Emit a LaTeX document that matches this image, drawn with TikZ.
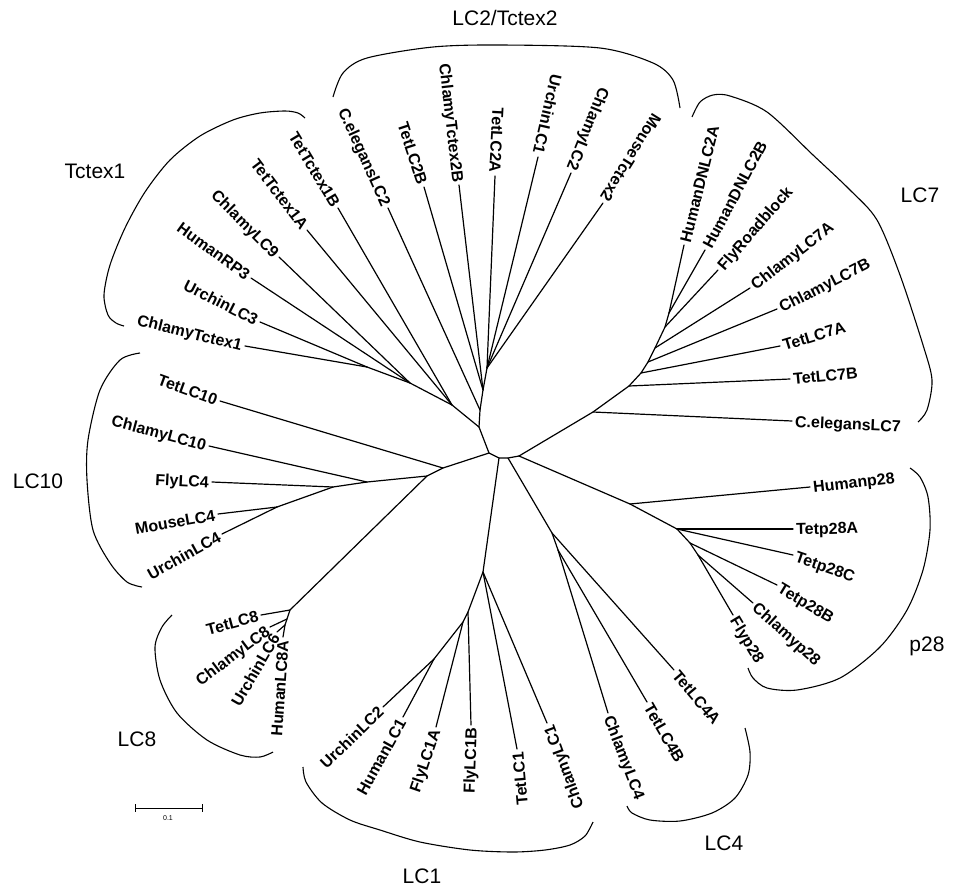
\documentclass[tikz,border=0pt]{standalone}
\usepackage{fontspec}
\setmainfont{Liberation Sans}
\usetikzlibrary{calc}
\tikzset{
  branch/.style={line width=1.2pt, line cap=round},
  bracket/.style={line width=1.1pt},
  lbl/.style={font=\bfseries\fontsize{16}{16}\selectfont, inner sep=3pt, text height=12pt, text depth=0pt},
  grp/.style={font=\fontsize{21}{21}\selectfont, inner sep=0pt}
}
% leaf label read towards the centre / away from the centre
\newcommand{\leafin}[5]{ \node[lbl, anchor=east, rotate=#4] (#1) at (#2) {#5}; \draw[branch] (#3) -- (#1.east);}
\newcommand{\leafout}[5]{ \node[lbl, anchor=west, rotate=#4] (#1) at (#2) {#5}; \draw[branch] (#3) -- (#1.west);}

\begin{document}
\begin{tikzpicture}[x=1pt, y=-1pt]
        \useasboundingbox (0,0) rectangle (953,889);
        % centre
        \coordinate (a) at (479,427);
        \coordinate (b) at (489,453);
        \coordinate (c) at (499,458);
        \coordinate (cc) at (508,458);
        \coordinate (d) at (519,456);
        % LC2 nodes
        \coordinate (n1) at (480,410);
        \coordinate (n2) at (483,390);
        \coordinate (n3) at (487,368);
        % Tctex1 nodes
        \coordinate (t1) at (452,405);
        \coordinate (t2) at (410,383);
        \coordinate (t3) at (367,367);
        % LC10 nodes
        \coordinate (p1) at (443,468);
        \coordinate (p2) at (427,476);
        \coordinate (p3) at (367,482);
        \coordinate (p4) at (333,487);
        \coordinate (p5) at (277,507);
        % LC8 nodes
        \coordinate (p6) at (290,610);
        \coordinate (p7) at (287,619);
        \coordinate (p8) at (285,625);
        % LC1 nodes
        \coordinate (q1) at (483,572);
        \coordinate (q2) at (468,612);
        \coordinate (q3) at (463,622);
        \coordinate (q4) at (434,659);
        % LC4 nodes
        \coordinate (r1) at (552,533);
        \coordinate (r2) at (558,550);
        % p28 nodes
        \coordinate (s1) at (630,504);
        \coordinate (s2) at (677,529);
        \coordinate (s3) at (690,543);
        \coordinate (s4) at (698,555);
        % LC7 nodes
        \coordinate (k1) at (593,412);
        \coordinate (k2) at (629,386);
        \coordinate (k3) at (641,373);
        \coordinate (k4) at (648,362);
        \coordinate (k5) at (655,348);
        \coordinate (k6) at (665,327);
        \coordinate (k7) at (669,313);
        % inner branches
        \draw[branch] (a) -- (b) -- (c) -- (cc) -- (d);
        \draw[branch] (a) -- (n1) -- (n2) -- (n3);
        \draw[branch] (a) -- (t1) -- (t2) -- (t3);
        \draw[branch] (b) -- (p1) -- (p2) -- (p3) -- (p4) -- (p5);
        \draw[branch] (p2) -- (p6) -- (p7) -- (p8);
        \draw[branch] (c) -- (q1) -- (q2) -- (q3) -- (q4);
        \draw[branch] (cc) -- (r1) -- (r2);
        \draw[branch] (d) -- (s1) -- (s2) -- (s3) -- (s4);
        \draw[branch] (d) -- (k1) -- (k2) -- (k3) -- (k4) -- (k5) -- (k6) -- (k7);
        % LC2 leaves
        \leafin{celeganslc2}{388,208}{n1}{-65.8}{C.elegansLC2}
        \leafin{tetlc2b}{424,187}{n2}{-72}{TetLC2B}
        \leafin{chlamytctex2b}{459,185}{n2}{-83.5}{ChlamyTctex2B}
        \leafin{tetlc2a}{495,176}{n3}{-93}{TetLC2A}
        \leafin{urchinlc1}{538,157}{n3}{-103}{UrchinLC1}
        \leafin{chlamylc2}{571,173}{n3}{-112}{ChlamyLC2}
        \leafin{mousetctex2}{603,203}{n3}{-122}{MouseTctex2}
        % Tctex1 leaves
        \leafin{tettctex1b}{338,208}{t1}{-59}{TetTctex1B}
        \leafin{tettctex1a}{307,230}{t1}{-53}{TetTctex1A}
        \leafin{chlamylc9}{279,257}{t2}{-45}{ChlamyLC9}
        \leafin{humanrp3}{251,278}{t2}{-36}{HumanRP3}
        \leafin{urchinlc3}{260,322}{t3}{-27}{UrchinLC3}
        \leafin{chlamytctex1}{245,346}{t3}{-14}{ChlamyTctex1}
        % LC10 leaves
        \leafin{tetlc10}{220,401}{p1}{-20}{TetLC10}
        \leafin{chlamylc10}{209,446}{p3}{-15}{ChlamyLC10}
        \leafin{flylc4}{212,482}{p4}{-3}{FlyLC4}
        \leafin{mouselc4}{218,514}{p5}{10}{MouseLC4}
        \leafin{urchinlc4}{222,534}{p5}{29}{UrchinLC4}
        % LC8 leaves
        \leafin{tetlc8}{261,615}{p6}{15}{TetLC8}
        \leafin{chlamylc8}{270,627}{p7}{37}{ChlamyLC8}
        \leafin{urchinlc6}{277,632}{p8}{60}{UrchinLC6}
        \leafin{humanlc8a}{283,637}{p8}{86}{HumanLC8A}
        % LC1 leaves
        \leafin{urchinlc2}{383,707}{q4}{44}{UrchinLC2}
        \leafin{humanlc1}{403,717}{q4}{61}{HumanLC1}
        \leafin{flylc1a}{436,727}{q3}{71}{FlyLC1A}
        \leafin{flylc1b}{471,725}{q2}{88}{FlyLC1B}
        \leafin{tetlc1}{517,749}{q1}{95}{TetLC1}
        \leafin{chlamylc1}{547,723}{q1}{110}{ChlamyLC1}
        % LC4 leaves
        \leafout{chlamylc4}{608,713}{r2}{-69}{ChlamyLC4}
        \leafout{tetlc4b}{647,702}{r2}{-60}{TetLC4B}
        \leafout{tetlc4a}{674,670}{r1}{-50}{TetLC4A}
        % p28 leaves
        \leafout{humanp28}{810,487}{s1}{6.7}{Humanp28}
        \leafout{tetp28a}{793,529}{s2}{1.5}{Tetp28A}
        \leafout{tetp28c}{793,555}{s2}{-19}{Tetp28C}
        \leafout{tetp28b}{777,585}{s3}{-31}{Tetp28B}
        \leafout{chlamyp28}{753,603}{s4}{-42}{Chlamyp28}
        \leafout{flyp28}{733,615}{s4}{-59}{Flyp28}
        % LC7 leaves
        \leafout{humandnlc2a}{684,245}{k7}{76}{HumanDNLC2A}
        \leafout{humandnlc2b}{705,250}{k7}{62}{HumanDNLC2B}
        \leafout{flyroadblock}{718,270}{k6}{49}{FlyRoadblock}
        \leafout{chlamylc7a}{750,288}{k5}{38}{ChlamyLC7A}
        \leafout{chlamylc7b}{777,309}{k4}{27}{ChlamyLC7B}
        \leafout{tetlc7a}{780,346}{k3}{17}{TetLC7A}
        \leafout{tetlc7b}{790,379}{k2}{5.5}{TetLC7B}
        \leafout{celeganslc7}{792,421}{k1}{-2.6}{C.elegansLC7}
        % group brackets
        \draw[bracket] plot[smooth] coordinates {(333,97) (343,73) (367,58) (433,47) (500,45) (600,48) (653,63) (673,80) (680,108)};
        \draw[bracket] plot[smooth] coordinates {(692,117) (700,102) (713,95) (730,96) (767,112) (813,155) (850,190) (877,220) (900,275) (923,345) (932,380) (927,410) (918,422)};
        \draw[bracket] plot[smooth] coordinates {(305,118) (298,113) (285,111) (260,113) (233,120) (200,136) (170,160) (145,192) (125,228) (110,265) (104,295) (108,315) (116,323) (124,326)};
        \draw[bracket] plot[smooth] coordinates {(140,353) (120,360) (100,390) (88,440) (87,480) (93,530) (110,563) (127,582) (142,587)};
        \draw[bracket] plot[smooth] coordinates {(172,615) (162,627) (155,647) (160,680) (177,713) (207,740) (240,755) (260,757) (273,752)};
        \draw[bracket] plot[smooth] coordinates {(303,767) (306,782) (322,803) (350,820) (380,830) (420,842) (470,850) (513,852) (545,850) (570,845) (585,836) (593,822)};
        \draw[bracket] plot[smooth] coordinates {(627,806) (632,813) (650,820) (680,821) (712,813) (735,798) (748,775) (750,752) (745,728)};
        \draw[bracket] plot[smooth] coordinates {(910,468) (920,477) (928,497) (930,530) (923,570) (907,610) (880,647) (840,678) (797,690) (767,688) (753,678) (748,668)};
        % group names
        \node[grp] (namelc2) at (505,18) {LC2/Tctex2};
        \node[grp] (nametctex1) at (95,171) {Tctex1};
        \node[grp] (namelc7) at (920,195) {LC7};
        \node[grp] (namelc10) at (38,481) {LC10};
        \node[grp] (namep28) at (927,646) {p28};
        \node[grp] (namelc8) at (137,739) {LC8};
        \node[grp] (namelc4) at (724,843) {LC4};
        \node[grp] (namelc1) at (422,876) {LC1};
        % scale bar
        \draw[line width=1pt] (135,808) -- (202,808);
        \draw[line width=1pt] (135,804) -- (135,812);
        \draw[line width=1pt] (202,804) -- (202,812);
        \node[font=\fontsize{7}{7}\selectfont] (scale) at (168,818) {0.1};
\end{tikzpicture}
\end{document}
